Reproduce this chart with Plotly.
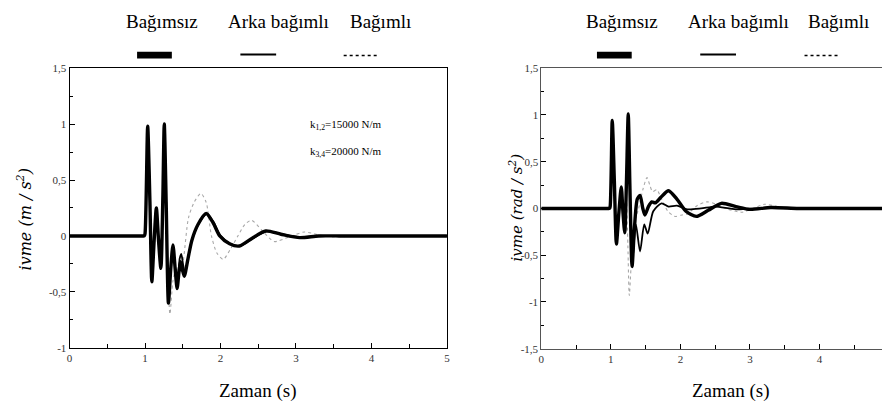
import plotly.graph_objects as go

# ---------------- data ----------------
# Left chart: linear acceleration (m/s^2)
tL_bag = [0, 0.5, 0.9, 0.96, 0.99, 1.0, 1.035, 1.065, 1.09, 1.12, 1.15, 1.18, 1.21, 1.235, 1.255, 1.28, 1.31, 1.34, 1.37,
          1.40, 1.425, 1.45, 1.47, 1.495, 1.52, 1.57, 1.62, 1.70, 1.81, 1.90, 1.99, 2.12, 2.25, 2.42, 2.6,
          2.8, 3.05, 3.3, 3.6, 4.2, 5]
vL_bag = [0, 0, 0, 0, 0, 0.02, 0.98, 0.3, -0.41, -0.05, 0.25, -0.05, -0.29, 0.3, 1.0, 0.3, -0.6, -0.3, -0.08,
          -0.3, -0.47, -0.32, -0.23, -0.3, -0.36, -0.2, -0.04, 0.1, 0.2, 0.12, 0.0, -0.07, -0.09, -0.02, 0.045,
          0.015, -0.015, 0.0, 0.0, 0, 0]

tL_arka = [0, 0.5, 0.9, 0.96, 0.99, 1.0, 1.035, 1.065, 1.09, 1.12, 1.15, 1.18, 1.21, 1.235, 1.255, 1.28, 1.31, 1.34, 1.37,
           1.40, 1.43, 1.46, 1.48, 1.505, 1.53, 1.58, 1.63, 1.72, 1.82, 1.91, 2.0, 2.13, 2.26, 2.43, 2.62,
           2.82, 3.05, 3.3, 3.6, 4.2, 5]
vL_arka = [0, 0, 0, 0, 0, 0.02, 0.96, 0.3, -0.4, -0.05, 0.24, -0.05, -0.28, 0.3, 0.98, 0.3, -0.58, -0.3, -0.12,
           -0.28, -0.4, -0.2, -0.16, -0.26, -0.33, -0.16, -0.02, 0.12, 0.2, 0.12, 0.0, -0.07, -0.09, -0.02, 0.04,
           0.015, -0.01, 0, 0, 0, 0]

tL_bagimli = [0, 0.5, 0.9, 0.96, 0.99, 1.0, 1.035, 1.065, 1.09, 1.12, 1.15, 1.18, 1.21, 1.235, 1.255, 1.28, 1.33, 1.37, 1.41,
              1.45, 1.50, 1.575, 1.65, 1.74, 1.81, 1.88, 1.95, 2.035, 2.13, 2.23, 2.32, 2.41, 2.55, 2.71, 2.9,
              3.11, 3.3, 3.5, 3.8, 4.3, 5]
vL_bagimli = [0, 0, 0, 0, 0, 0.02, 0.85, 0.3, -0.38, -0.05, 0.2, -0.05, -0.27, 0.3, 0.85, 0.2, -0.70, -0.4, -0.3,
              -0.35, -0.25, 0.16, 0.3, 0.38, 0.3, 0.0, -0.15, -0.21, -0.12, 0.0, 0.1, 0.14, 0.05, -0.05, -0.01,
              0.035, 0.01, -0.01, 0, 0, 0]

# Right chart: angular acceleration (rad/s^2)
tR_bag = [0, 0.5, 0.9, 0.95, 0.98, 0.99, 1.02, 1.05, 1.08, 1.115, 1.15, 1.175, 1.2, 1.225, 1.25, 1.275, 1.305, 1.34, 1.38,
          1.42, 1.46, 1.49, 1.54, 1.59, 1.64, 1.72, 1.83, 1.95, 2.08, 2.23, 2.4, 2.59, 2.8, 3.0, 3.3, 3.7, 4.3, 5]
vR_bag = [0, 0, 0, 0, 0, 0.02, 0.94, 0.3, -0.38, -0.05, 0.23, -0.05, -0.26, 0.3, 1.01, 0.2, -0.62, -0.2, 0.1,
          0.14, 0.0, -0.07, 0.02, 0.07, 0.06, 0.12, 0.19, 0.1, -0.03, -0.085, -0.02, 0.055, 0.02, -0.01, 0.01, 0, 0, 0]

tR_arka = [0, 0.5, 0.9, 0.95, 0.98, 0.99, 1.02, 1.05, 1.08, 1.115, 1.15, 1.175, 1.2, 1.225, 1.25, 1.275, 1.305, 1.36, 1.42,
           1.48, 1.53, 1.61, 1.73, 1.83, 1.95, 2.1, 2.3, 2.5, 2.8, 3.2, 3.8, 4.4, 5]
vR_arka = [0, 0, 0, 0, 0, 0.02, 0.92, 0.3, -0.37, -0.05, 0.22, -0.05, -0.25, 0.3, 0.98, 0.2, -0.6, -0.17, -0.46,
           -0.17, -0.27, -0.03, 0.055, 0.02, 0.03, -0.01, 0.0, 0.02, -0.01, 0.005, 0, 0, 0]

tR_bagimli = [0, 0.5, 0.9, 0.95, 0.98, 0.99, 1.02, 1.05, 1.08, 1.115, 1.15, 1.175, 1.2, 1.225, 1.245, 1.265, 1.30, 1.34, 1.40,
              1.46, 1.52, 1.56, 1.6, 1.66, 1.73, 1.82, 1.92, 2.02, 2.1, 2.24, 2.38, 2.5, 2.65, 2.88, 3.05,
              3.21, 3.4, 3.7, 4.2, 5]
vR_bagimli = [0, 0, 0, 0, 0, 0.02, 0.7, 0.2, -0.3, 0.0, 0.2, 0.0, -0.25, 0.1, -0.4, -0.93, -0.5, -0.15, 0.0,
              0.2, 0.33, 0.25, 0.18, 0.2, 0.1, -0.03, -0.085, -0.07, -0.06, 0.03, 0.07, 0.05, 0.0, -0.04, 0.0,
              0.045, 0.02, -0.01, 0, 0]

legend_names = ["Bağımsız", "Arka bağımlı", "Bağımlı"]
yL_ticks = [-1, -0.5, 0, 0.5, 1, 1.5]
yL_text = ["-1", "-0,5", "0", "0,5", "1", "1,5"]
yR_ticks = [-1.5, -1, -0.5, 0, 0.5, 1, 1.5]
yR_text = ["-1,5", "-1", "-0,5", "0", "0,5", "1", "1,5"]
x_ticks = [0, 1, 2, 3, 4, 5]

# ---------------- figure ----------------
W, H = 885, 414
fig = go.Figure()

def px_x(p):
    return p / W

def px_y(p):
    return 1 - p / H

styles = [
    dict(color="#a8a8a8", width=1.1, dash="dot"),
    dict(color="black", width=1.8),
    dict(color="black", width=3.4),
]

left_series = [(tL_bagimli, vL_bagimli), (tL_arka, vL_arka), (tL_bag, vL_bag)]
right_series = [(tR_bagimli, vR_bagimli), (tR_arka, vR_arka), (tR_bag, vR_bag)]
names = [legend_names[2], legend_names[1], legend_names[0]]

for (t, v), st, nm in zip(left_series, styles, names):
    fig.add_trace(go.Scatter(x=t, y=v, mode="lines", name=nm, line=dict(shape="spline", smoothing=0.7, **st),
                             xaxis="x", yaxis="y", showlegend=False, hoverinfo="skip"))
for (t, v), st, nm in zip(right_series, styles, names):
    fig.add_trace(go.Scatter(x=t, y=v, mode="lines", name=nm, line=dict(shape="spline", smoothing=0.7, **st),
                             xaxis="x2", yaxis="y2", showlegend=False, hoverinfo="skip"))

tickfont = dict(family="Liberation Sans Narrow", size=11, color="#333")

common_x = dict(showline=True, linecolor="black", linewidth=1, ticks="inside", ticklen=5, tickcolor="black",
                tickvals=x_ticks, ticktext=[str(v) for v in x_ticks], tickfont=tickfont, showgrid=False,
                zeroline=False, minor=dict(ticks="inside", ticklen=4, dtick=0.5, tickcolor="black", showgrid=False))
common_y = dict(showline=True, linecolor="black", linewidth=1, ticks="inside", ticklen=5, tickcolor="black",
                tickfont=tickfont, showgrid=False, zeroline=False,
                minor=dict(ticks="inside", ticklen=3, dtick=0.25, tickcolor="black", showgrid=False))

fig.update_layout(
    width=W, height=H, margin=dict(l=0, r=0, t=0, b=0),
    paper_bgcolor="white", plot_bgcolor="white",
    font=dict(family="Liberation Serif"),
    xaxis=dict(domain=[px_x(67), px_x(447)], range=[0, 5], anchor="y", mirror=True, **common_x),
    yaxis=dict(domain=[px_y(352), px_y(64)], range=[-1, 1.5], anchor="x", mirror=True,
               tickvals=yL_ticks, ticktext=yL_text, **common_y),
    xaxis2=dict(domain=[px_x(542), 1.0], range=[0, 4.9], anchor="y2", mirror=True,
                **{**common_x, "linecolor": "#555"}),
    yaxis2=dict(domain=[px_y(353), px_y(64)], range=[-1.5, 1.5], anchor="x2",
                tickvals=yR_ticks, ticktext=yR_text, **{**common_y, "linecolor": "#555"}),
    showlegend=False,
)

serif = "Liberation Serif"
ann = []
# legend texts
for xs in [(160, 277, 380), (623, 741, 841)]:
    for x, nm in zip(xs, legend_names):
        ann.append(dict(x=px_x(x), y=px_y(16), xref="paper", yref="paper", text=nm, showarrow=False,
                        font=dict(family=serif, size=19, color="black"), xanchor="center", yanchor="middle"))
# axis titles
for x in (257, 733):
    ann.append(dict(x=px_x(x), y=px_y(396), xref="paper", yref="paper", text="Zaman (s)", showarrow=False,
                    font=dict(family=serif, size=19, color="black"), xanchor="center", yanchor="middle"))
ann.append(dict(x=px_x(22), y=px_y(220), xref="paper", yref="paper", text="<i>ivme (m / s<sup>2</sup>)</i>",
                showarrow=False, textangle=-90, font=dict(family="DejaVu Serif", size=16, color="black"),
                xanchor="center", yanchor="middle"))
ann.append(dict(x=px_x(516), y=px_y(208), xref="paper", yref="paper", text="<i>ivme (rad / s<sup>2</sup>)</i>",
                showarrow=False, textangle=-90, font=dict(family="DejaVu Serif", size=15, color="black"),
                xanchor="center", yanchor="middle"))
# spring constants
ann.append(dict(x=px_x(307), y=px_y(123), xref="paper", yref="paper", text="k<sub>1,2</sub>=15000 N/m",
                showarrow=False, font=dict(family=serif, size=11, color="black"), xanchor="left", yanchor="middle"))
ann.append(dict(x=px_x(307), y=px_y(150), xref="paper", yref="paper", text="k<sub>3,4</sub>=20000 N/m",
                showarrow=False, font=dict(family=serif, size=11, color="black"), xanchor="left", yanchor="middle"))
fig.update_layout(annotations=ann)

# legend sample marks
shapes = []
for x0s in [(135, 239, 343), (598, 702, 807)]:
    shapes.append(dict(type="rect", xref="paper", yref="paper", x0=px_x(x0s[0]), x1=px_x(x0s[0] + 35),
                       y0=px_y(54), y1=px_y(47), fillcolor="black", line=dict(width=0)))
    shapes.append(dict(type="line", xref="paper", yref="paper", x0=px_x(x0s[1]), x1=px_x(x0s[1] + 36),
                       y0=px_y(50), y1=px_y(50), line=dict(color="black", width=2)))
    shapes.append(dict(type="line", xref="paper", yref="paper", x0=px_x(x0s[2]), x1=px_x(x0s[2] + 36),
                       y0=px_y(51), y1=px_y(51), line=dict(color="black", width=1.3, dash="dot")))
fig.update_layout(shapes=shapes)

fig.write_html("out.html")
